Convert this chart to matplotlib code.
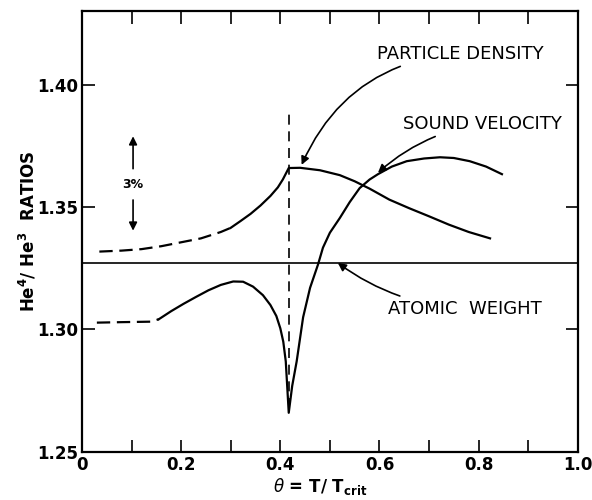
import matplotlib
matplotlib.use("Agg")
import matplotlib.pyplot as plt

# particle density (dashed low-T part, then solid)
pd_dash_x = [0.035, 0.08, 0.12, 0.16, 0.20, 0.24, 0.28, 0.30]
pd_dash_y = [1.3318, 1.3322, 1.3328, 1.3340, 1.3356, 1.3372, 1.3398, 1.3415]
pd_x = [0.30, 0.32, 0.34, 0.36, 0.38, 0.395, 0.405, 0.417,
        0.44, 0.48, 0.52, 0.55, 0.58, 0.62, 0.66, 0.70, 0.74, 0.78, 0.823]
pd_y = [1.3415, 1.3443, 1.3472, 1.3506, 1.3545, 1.3580, 1.3612, 1.3659,
        1.3660, 1.3650, 1.3630, 1.3605, 1.3575, 1.3530, 1.3495, 1.3462, 1.3428, 1.3398, 1.3372]

# sound velocity (dashed low-T part, then solid through the cusp)
sv_dash_x = [0.03, 0.08, 0.14, 0.155]
sv_dash_y = [1.3028, 1.3030, 1.3032, 1.3042]
sv_x = [0.155, 0.18, 0.205, 0.23, 0.255, 0.28, 0.305, 0.325, 0.345, 0.365, 0.38,
        0.392, 0.40, 0.406, 0.411, 0.417,
        0.424, 0.433, 0.446, 0.46, 0.476, 0.486, 0.50, 0.52, 0.54, 0.56, 0.58,
        0.597, 0.625, 0.655, 0.69, 0.722, 0.75, 0.782, 0.815, 0.847]
sv_y = [1.3042, 1.3075, 1.3105, 1.3133, 1.3160, 1.3182, 1.3196, 1.3195, 1.3175, 1.3140, 1.3100,
        1.3055, 1.3005, 1.2950, 1.2870, 1.2660,
        1.2770, 1.2870, 1.3050, 1.3170, 1.3265, 1.3334, 1.3395, 1.3455, 1.3520, 1.3577, 1.3612,
        1.3634, 1.3665, 1.3687, 1.3698, 1.3703, 1.3700, 1.3687, 1.3665, 1.3634]

atomic_weight = 1.327
theta_c = 0.417

xticks = [0, 0.2, 0.4, 0.6, 0.8, 1.0]
xlabels = ["0", "0.2", "0.4", "0.6", "0.8", "1.0"]
yticks = [1.25, 1.30, 1.35, 1.40]
ylabels = ["1.25", "1.30", "1.35", "1.40"]

fig = plt.figure(figsize=(5.92, 5.0), dpi=100)
ax = fig.add_axes([0.1385, 0.096, 0.8375, 0.882])

lw = 1.6
ax.plot(pd_dash_x, pd_dash_y, color="black", lw=lw, dashes=(6, 3))
ax.plot(pd_x, pd_y, color="black", lw=lw)
ax.plot(sv_dash_x, sv_dash_y, color="black", lw=lw, dashes=(6, 3))
ax.plot(sv_x, sv_y, color="black", lw=lw)
ax.axhline(atomic_weight, color="black", lw=1.2)
ax.plot([theta_c, theta_c], [1.268, 1.390], color="black", lw=1.2, dashes=(6, 4))

ax.set_xlim(0, 1.0)
ax.set_ylim(1.25, 1.43)
ax.set_xticks(xticks)
ax.set_xticklabels(xlabels, fontweight="bold", fontsize=12)
ax.set_xticks([0.1, 0.3, 0.5, 0.7, 0.9], minor=True)
ax.set_yticks(yticks)
ax.set_yticklabels(ylabels, fontweight="bold", fontsize=12)
ax.tick_params(which="both", direction="in", length=9, width=1.2,
               top=True, right=True)
ax.tick_params(axis="y", pad=3)
ax.tick_params(axis="x", pad=3)
for s in ax.spines.values():
    s.set_linewidth(1.6)

ax.set_ylabel(r"He$^{\mathbf{4}}$/ He$^{\mathbf{3}}$  RATIOS", fontweight="bold", fontsize=12)
ax.yaxis.set_label_coords(-0.109, 0.5, transform=ax.transAxes)
ax.yaxis.label.set_va("center")
ax.set_xlabel(r"$\theta$ = T/ T$_{\mathbf{crit}}$", fontweight="bold", fontsize=12)
ax.xaxis.set_label_coords(0.48, -0.079, transform=ax.transAxes)
ax.xaxis.label.set_va("center")

# 3% marker
ax.annotate("", xy=(0.103, 1.3800), xytext=(0.103, 1.3645),
            arrowprops=dict(arrowstyle="-|>", color="black", lw=1.2, mutation_scale=12))
ax.annotate("", xy=(0.103, 1.3392), xytext=(0.103, 1.3540),
            arrowprops=dict(arrowstyle="-|>", color="black", lw=1.2, mutation_scale=12))
ax.text(0.103, 1.3593, "3%", ha="center", va="center", fontsize=9, fontweight="bold")

# curve labels
ax.annotate("PARTICLE DENSITY", xy=(0.443, 1.3672), xytext=(0.595, 1.4126),
            ha="left", va="center", fontsize=13,
            arrowprops=dict(arrowstyle="-|>", color="black", lw=1.2, mutation_scale=12,
                            connectionstyle="arc3,rad=0.3", shrinkA=2, shrinkB=0))
ax.annotate("SOUND VELOCITY", xy=(0.597, 1.3640), xytext=(0.647, 1.3840),
            ha="left", va="center", fontsize=13,
            arrowprops=dict(arrowstyle="-|>", color="black", lw=1.2, mutation_scale=12,
                            connectionstyle="arc3,rad=0.15", shrinkA=2, shrinkB=0))
ax.annotate("ATOMIC  WEIGHT", xy=(0.516, 1.3272), xytext=(0.617, 1.3085),
            ha="left", va="center", fontsize=13,
            arrowprops=dict(arrowstyle="-|>", color="black", lw=1.2, mutation_scale=12,
                            connectionstyle="arc3,rad=-0.15", shrinkA=2, shrinkB=0))

fig.savefig("out.png", dpi=100)
